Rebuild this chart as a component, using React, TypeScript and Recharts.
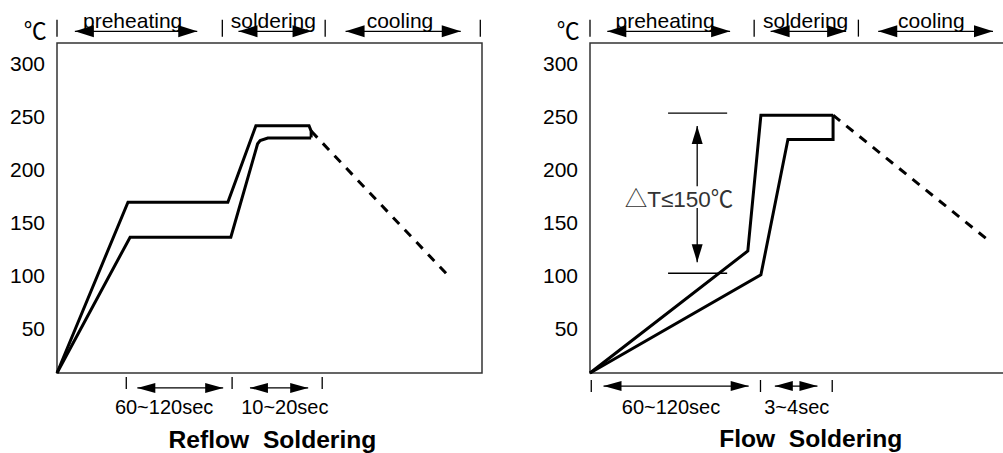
import React from "react";
import {
  LineChart,
  Line,
  XAxis,
  YAxis,
  ReferenceLine,
  ReferenceArea,
  ReferenceDot,
} from "recharts";

// temperature axis (°C) and a schematic time axis (0..100)
const yTicks = [50, 100, 150, 200, 250, 300];
const yDomain: [number, number] = [5, 316];
const xDomain: [number, number] = [0, 100];

// Reflow soldering profile
const reflowUpper = [
  { t: 0, v: 5 },
  { t: 16.7, v: 166 },
  { t: 40.2, v: 166 },
  { t: 46.8, v: 238 },
  { t: 59.3, v: 238 },
  { t: 59.8, v: 233 },
  { t: 59.8, v: 227 },
];
const reflowLower = [
  { t: 0, v: 5 },
  { t: 17.2, v: 133 },
  { t: 40.9, v: 133 },
  { t: 47.2, v: 221 },
  { t: 47.8, v: 224 },
  { t: 49.6, v: 226.5 },
  { t: 59.8, v: 226.5 },
];
const reflowCooling = [
  { t: 59.8, v: 233 },
  { t: 92.0, v: 97 },
];
const reflowPhaseTicks = [0, 38.9, 63.1, 99.6];
const reflowPhases = [
  { label: "preheating", from: 4.2, to: 33.0, at: 17.8 },
  { label: "soldering", from: 42.7, to: 59.9, at: 50.9 },
  { label: "cooling", from: 67.9, to: 95.0, at: 80.7 },
];
const reflowTimeTicks = [16.3, 41.2, 62.4];
const reflowTimes = [
  { label: "60~120sec", from: 18.9, to: 39.1, at: 25.2 },
  { label: "10~20sec", from: 45.4, to: 59.1, at: 53.6 },
];

// Flow soldering profile
const flowUpper = [
  { t: 0, v: 5 },
  { t: 37.4, v: 120 },
  { t: 40.5, v: 248 },
  { t: 57.6, v: 248 },
];
const flowLower = [
  { t: 0, v: 5 },
  { t: 40.5, v: 97.5 },
  { t: 46.9, v: 225 },
  { t: 57.6, v: 225 },
  { t: 57.6, v: 248 },
];
const flowCooling = [
  { t: 57.6, v: 248 },
  { t: 93.8, v: 132 },
];
const flowPhaseTicks = [0, 38.9, 63.6, 99.6];
const flowPhases = [
  { label: "preheating", from: 4.1, to: 33.2, at: 17.8 },
  { label: "soldering", from: 42.8, to: 60.7, at: 51.1 },
  { label: "cooling", from: 68.3, to: 95.5, at: 80.9 },
];
const flowTimeTicks = [0.3, 40.4, 57.4];
const flowTimes = [
  { label: "60~120sec", from: 3.2, to: 37.6, at: 19.2 },
  { label: "3~4sec", from: 43.8, to: 53.9, at: 49.0 },
];
const deltaT = { label: "△T≤150℃", high: 250, low: 99 };

const FONT = "'Liberation Sans', Arial, sans-serif";

function arrow(start: boolean, end: boolean, len = 19, half = 5.5) {
  return (p: any) => {
    const x1 = Number(p.x1), y1 = Number(p.y1), x2 = Number(p.x2), y2 = Number(p.y2);
    const d = Math.hypot(x2 - x1, y2 - y1) || 1;
    const ux = (x2 - x1) / d, uy = (y2 - y1) / d;
    const head = (tx: number, ty: number, sx: number, sy: number) => {
      const bx = tx + sx * len, by = ty + sy * len;
      return `${tx},${ty} ${bx - sy * half},${by + sx * half} ${bx + sy * half},${by - sx * half}`;
    };
    return (
      <g>
        <line x1={x1} y1={y1} x2={x2} y2={y2} stroke="#000" strokeWidth={1.3} />
        {start && <polygon points={head(x1, y1, ux, uy)} fill="#000" />}
        {end && <polygon points={head(x2, y2, -ux, -uy)} fill="#000" />}
      </g>
    );
  };
}

function textAt(label: string, size: number, opts: any = {}) {
  return (p: any) => (
    <text
      x={p.cx}
      y={p.cy}
      textAnchor={opts.anchor || "middle"}
      fontSize={size}
      fontFamily={opts.family || FONT}
      fontWeight={opts.weight || "normal"}
      fill={opts.fill || "#000"}
      style={{ whiteSpace: "pre" }}
    >
      {label}
    </text>
  );
}

const blankTick = () => <g />;

interface ProfileProps {
  upper: { t: number; v: number }[];
  lower: { t: number; v: number }[];
  cooling: { t: number; v: number }[];
  phaseTicks: number[];
  phases: { label: string; from: number; to: number; at: number }[];
  timeTicks: number[];
  times: { label: string; from: number; to: number; at: number }[];
  timeTickY: [number, number];
  timeArrowY: number;
  title: string;
  titleAt: number;
  titleY: number;
  marginLeft: number;
  marginRight: number;
  extra?: React.ReactNode;
}

function Profile(props: ProfileProps) {
  const {
    upper, lower, cooling, phaseTicks, phases, timeTicks, times,
    timeTickY, timeArrowY, title, titleAt, titleY, marginLeft, marginRight, extra,
  } = props;
  return (
    <LineChart
      width={500}
      height={453}
      margin={{ top: 43, right: marginRight, bottom: 80, left: marginLeft }}
    >
      <XAxis dataKey="t" type="number" domain={xDomain} hide allowDuplicatedCategory={false} />
      <YAxis
        yAxisId="y"
        type="number"
        domain={yDomain}
        ticks={yTicks}
        width={50}
        axisLine={false}
        tickLine={false}
        tickSize={0}
        tickMargin={12}
        tick={(p: any) => (
          <text x={p.x} y={p.y} dy={11} textAnchor="end" fontSize={21} fontFamily={FONT} fill="#000">
            {p.payload.value}
          </text>
        )}
      />
      <YAxis
        yAxisId="yl"
        orientation="left"
        mirror
        type="number"
        domain={yDomain}
        ticks={yTicks}
        axisLine={false}
        tickSize={14}
        tickLine={{ stroke: "#000", strokeWidth: 1.3 }}
        tick={blankTick}
      />
      <YAxis
        yAxisId="yr"
        orientation="right"
        mirror
        type="number"
        domain={yDomain}
        ticks={yTicks}
        axisLine={false}
        tickSize={16}
        tickLine={{ stroke: "#000", strokeWidth: 1.3 }}
        tick={blankTick}
      />
      <ReferenceArea
        yAxisId="y"
        x1={xDomain[0]}
        x2={xDomain[1]}
        y1={yDomain[0]}
        y2={yDomain[1]}
        fill="none"
        stroke="#333"
        strokeWidth={1.5}
        fillOpacity={0}
        ifOverflow="visible"
      />

      {/* unit */}
      <ReferenceDot
        yAxisId="y"
        x={-2.4}
        y={320}
        r={1}
        ifOverflow="visible"
        shape={textAt("℃", 23, { anchor: "end", family: "'Noto Sans CJK SC', sans-serif" })}
      />

      {/* phase markers above the plot */}
      {phaseTicks.map((t, i) => (
        <ReferenceLine
          key={`pt${i}`}
          yAxisId="y"
          segment={[{ x: t, y: 322 }, { x: t, y: 338 }]}
          stroke="#000"
          strokeWidth={1.3}
          ifOverflow="visible"
        />
      ))}
      {phases.map((p, i) => (
        <ReferenceLine
          key={`pa${i}`}
          yAxisId="y"
          segment={[{ x: p.from, y: 327 }, { x: p.to, y: 327 }]}
          ifOverflow="visible"
          shape={arrow(true, true, 19, 6)}
        />
      ))}
      {phases.map((p, i) => (
        <ReferenceDot
          key={`pl${i}`}
          yAxisId="y"
          x={p.at}
          y={330}
          r={1}
          ifOverflow="visible"
          shape={textAt(p.label, 21)}
        />
      ))}

      {/* time spans below the plot */}
      {timeTicks.map((t, i) => (
        <ReferenceLine
          key={`tt${i}`}
          yAxisId="y"
          segment={[{ x: t, y: timeTickY[0] }, { x: t, y: timeTickY[1] }]}
          stroke="#000"
          strokeWidth={1.3}
          ifOverflow="visible"
        />
      ))}
      {times.map((p, i) => (
        <ReferenceLine
          key={`ta${i}`}
          yAxisId="y"
          segment={[{ x: p.from, y: timeArrowY }, { x: p.to, y: timeArrowY }]}
          ifOverflow="visible"
          shape={arrow(true, true, 18, 5)}
        />
      ))}
      {times.map((p, i) => (
        <ReferenceDot
          key={`tl${i}`}
          yAxisId="y"
          x={p.at}
          y={-33.3}
          r={1}
          ifOverflow="visible"
          shape={textAt(p.label, 20)}
        />
      ))}
      <ReferenceDot
        yAxisId="y"
        x={titleAt}
        y={titleY}
        r={1}
        ifOverflow="visible"
        shape={textAt(title, 24.6, { weight: "bold" })}
      />

      {extra}

      <Line yAxisId="y" data={upper} dataKey="v" type="linear" stroke="#000" strokeWidth={3} dot={false} activeDot={false} isAnimationActive={false} />
      <Line yAxisId="y" data={lower} dataKey="v" type="linear" stroke="#000" strokeWidth={3} dot={false} activeDot={false} isAnimationActive={false} />
      <Line yAxisId="y" data={cooling} dataKey="v" type="linear" stroke="#000" strokeWidth={3} strokeDasharray="9 8" dot={false} activeDot={false} isAnimationActive={false} />
    </LineChart>
  );
}

export default function App() {
  const deltaExtra = [
    <ReferenceLine key="dh" yAxisId="y" segment={[{ x: 18.5, y: deltaT.high }, { x: 32.5, y: deltaT.high }]} stroke="#000" strokeWidth={1.3} ifOverflow="visible" />,
    <ReferenceLine key="dl" yAxisId="y" segment={[{ x: 18.5, y: deltaT.low }, { x: 32.5, y: deltaT.low }]} stroke="#000" strokeWidth={1.3} ifOverflow="visible" />,
    <ReferenceLine key="du" yAxisId="y" segment={[{ x: 25.4, y: 237.7 }, { x: 25.4, y: 181 }]} ifOverflow="visible" shape={arrow(true, false, 18, 5.5)} />,
    <ReferenceLine key="dd" yAxisId="y" segment={[{ x: 25.4, y: 160.5 }, { x: 25.4, y: 109.4 }]} ifOverflow="visible" shape={arrow(false, true, 18, 5.5)} />,
    <ReferenceDot key="dt" yAxisId="y" x={21.1} y={161} r={1} ifOverflow="visible" shape={textAt(deltaT.label, 22.5, { family: "'Liberation Sans', 'Noto Sans CJK SC', sans-serif", fill: "#333" })} />,
  ];

  return (
    <div style={{ position: "absolute", left: 0, top: 0, width: 1003, height: 453, overflow: "hidden", background: "#fff" }}>
      <div style={{ position: "absolute", left: 0, top: 0 }}>
        <Profile
          upper={reflowUpper}
          lower={reflowLower}
          cooling={reflowCooling}
          phaseTicks={reflowPhaseTicks}
          phases={reflowPhases}
          timeTicks={reflowTimeTicks}
          times={reflowTimes}
          timeTickY={[1.2, -10]}
          timeArrowY={-9.1}
          title="Reflow  Soldering"
          titleAt={50.7}
          titleY={-65.7}
          marginLeft={7}
          marginRight={18}
        />
      </div>
      <div style={{ position: "absolute", left: 520, top: 0 }}>
        <Profile
          upper={flowUpper}
          lower={flowLower}
          cooling={flowCooling}
          phaseTicks={flowPhaseTicks}
          phases={flowPhases}
          timeTicks={flowTimeTicks}
          times={flowTimes}
          timeTickY={[-1.6, -12.9]}
          timeArrowY={-7.3}
          title="Flow  Soldering"
          titleAt={52.3}
          titleY={-64.7}
          marginLeft={20}
          marginRight={8}
          extra={deltaExtra}
        />
      </div>
    </div>
  );
}
